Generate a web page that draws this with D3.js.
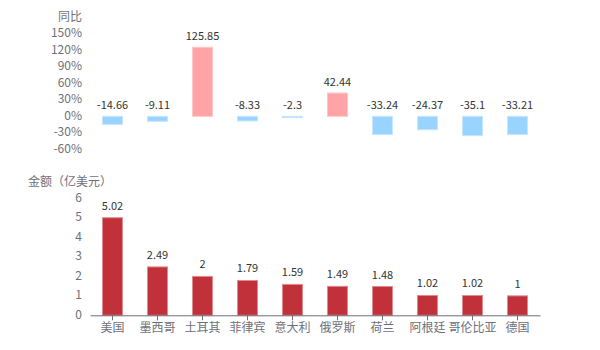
<!DOCTYPE html>
<html>
<head>
<meta charset="utf-8">
<script src="https://cdn.jsdelivr.net/npm/d3@7"></script>
<style>
  html, body { margin: 0; padding: 0; background: #fff; }
  svg { display: block; font-family: "Microsoft YaHei", "Noto Sans CJK SC", "Noto Sans", sans-serif; }
</style>
</head>
<body>
<svg id="chart" width="600" height="350"></svg>
<script>
// Countries, ranked by amount
const countries = ["美国", "墨西哥", "土耳其", "菲律宾", "意大利", "俄罗斯", "荷兰", "阿根廷", "哥伦比亚", "德国"];
// Year-on-year change (%)
const yoy = [-14.66, -9.11, 125.85, -8.33, -2.3, 42.44, -33.24, -24.37, -35.1, -33.21];
// Amount (100 million USD)
const amount = [5.02, 2.49, 2, 1.79, 1.59, 1.49, 1.48, 1.02, 1.02, 1];
// Axis ticks
const yoyTicks = [-60, -30, 0, 30, 60, 90, 120, 150];
const amountTicks = [0, 1, 2, 3, 4, 5, 6];

const svg = d3.select("#chart");
const tickColor = "#6e7079";
const labelColor = "#333";

const x = d3.scaleBand().domain(countries).range([90, 540]).paddingInner(0).paddingOuter(0);
const barW = 20;

// ---- Top panel: year-on-year ----
const yTop = d3.scaleLinear().domain([-60, 150]).range([149.3, 34]);
const gTop = svg.append("g");

gTop.append("text").attr("x", 82).attr("y", 18).attr("text-anchor", "end")
  .attr("dominant-baseline", "middle").attr("font-size", 12).attr("fill", tickColor).text("同比");

gTop.selectAll("text.tick").data(yoyTicks).join("text")
  .attr("class", "tick").attr("x", 82).attr("y", d => yTop(d))
  .attr("text-anchor", "end").attr("dominant-baseline", "middle")
  .attr("font-size", 12).attr("fill", tickColor).text(d => d + "%");

const topData = countries.map((c, i) => ({ c, v: yoy[i] }));
gTop.selectAll("rect").data(topData).join("rect")
  .attr("x", d => x(d.c) + x.bandwidth() / 2 - barW / 2)
  .attr("width", barW)
  .attr("y", d => Math.min(yTop(d.v), yTop(0)))
  .attr("height", d => Math.abs(yTop(d.v) - yTop(0)))
  .attr("fill", d => d.v >= 0 ? "#ffa3a6" : "#99d3ff")
  .attr("stroke", d => d.v >= 0 ? "#ffc6c8" : "#c4e6ff")
  .attr("stroke-width", 1);

gTop.selectAll("text.val").data(topData).join("text")
  .attr("class", "val")
  .attr("x", d => x(d.c) + x.bandwidth() / 2)
  .attr("y", d => Math.min(yTop(d.v), yTop(0)) - 10)
  .attr("text-anchor", "middle").attr("dominant-baseline", "middle")
  .attr("font-size", 11).attr("fill", labelColor).text(d => d.v);

// ---- Bottom panel: amount ----
const yBot = d3.scaleLinear().domain([0, 6]).range([315.3, 198.7]);
const gBot = svg.append("g");

gBot.append("text").attr("x", 28).attr("y", 183)
  .attr("dominant-baseline", "middle").attr("font-size", 12).attr("fill", tickColor).text("金额（亿美元）");

gBot.selectAll("text.tick").data(amountTicks).join("text")
  .attr("class", "tick").attr("x", 82).attr("y", d => yBot(d))
  .attr("text-anchor", "end").attr("dominant-baseline", "middle")
  .attr("font-size", 12).attr("fill", tickColor).text(d => d);

const botData = countries.map((c, i) => ({ c, v: amount[i] }));
gBot.selectAll("rect").data(botData).join("rect")
  .attr("x", d => x(d.c) + x.bandwidth() / 2 - barW / 2)
  .attr("width", barW)
  .attr("y", d => yBot(d.v))
  .attr("height", d => yBot(0) - yBot(d.v))
  .attr("fill", "#c1313a")
  .attr("stroke", "#e08a90")
  .attr("stroke-width", 1);

gBot.selectAll("text.val").data(botData).join("text")
  .attr("class", "val")
  .attr("x", d => x(d.c) + x.bandwidth() / 2)
  .attr("y", d => yBot(d.v) - 11)
  .attr("text-anchor", "middle").attr("dominant-baseline", "middle")
  .attr("font-size", 11).attr("fill", labelColor).text(d => d.v);

// x axis
const xAxis = d3.axisBottom(x).tickSize(5).tickSizeOuter(0).tickPadding(3);
const gx = gBot.append("g").attr("transform", `translate(0,${yBot(0)})`).call(xAxis);
gx.select(".domain").attr("stroke", tickColor);
gx.selectAll(".tick line").attr("stroke", tickColor);
gx.selectAll(".tick text").attr("font-size", 12).attr("fill", tickColor)
  .attr("font-family", "\"Microsoft YaHei\", \"Noto Sans CJK SC\", sans-serif");
</script>
</body>
</html>
